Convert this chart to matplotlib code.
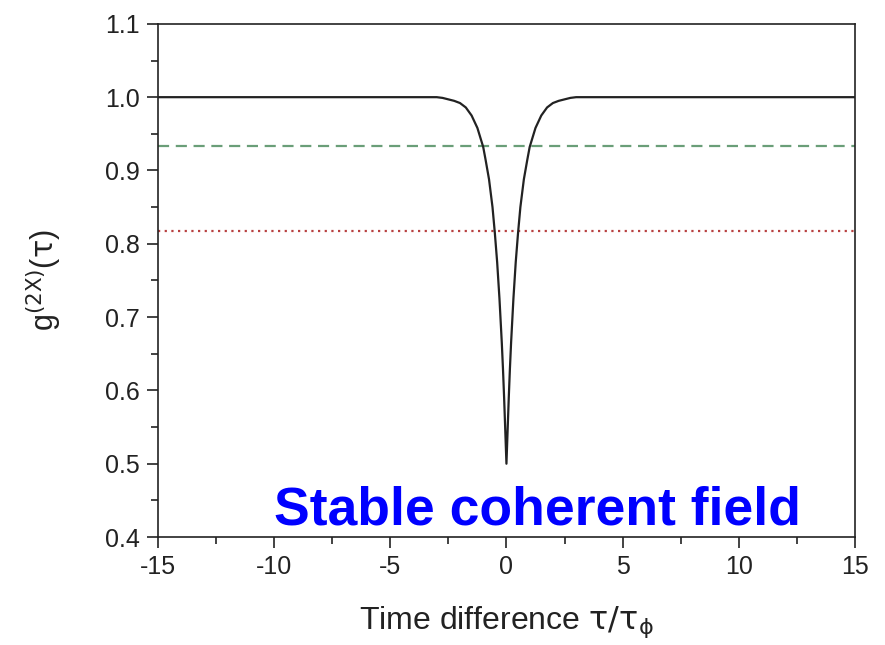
import numpy as np
import matplotlib
matplotlib.use("Agg")
import matplotlib.pyplot as plt
from matplotlib.ticker import MultipleLocator, FormatStrFormatter

# curve (right half, mirrored for the left)
tau_half = [0.0, 0.05, 0.1, 0.15, 0.2, 0.3, 0.4, 0.5, 0.6, 0.75, 0.9, 1.0,
            1.25, 1.5, 1.75, 2.0, 2.25, 2.5, 2.75, 3.0, 3.5, 15.0]
g2_half = [0.5, 0.545, 0.59, 0.63, 0.665, 0.725, 0.775, 0.815, 0.85, 0.888, 0.915, 0.932,
           0.958, 0.975, 0.986, 0.992, 0.995, 0.997, 0.999, 1.0, 1.0, 1.0]

green_level = 0.933
red_level = 0.817
x_range = [-15, 15]

tau = np.concatenate([-np.array(tau_half[:0:-1]), np.array(tau_half)])
g2 = np.concatenate([np.array(g2_half[:0:-1]), np.array(g2_half)])

plt.rcParams['font.family'] = ['Liberation Sans', 'DejaVu Sans']
plt.rcParams['mathtext.fontset'] = 'dejavusans'
plt.rcParams['axes.unicode_minus'] = False

fig = plt.figure(figsize=(8.85, 6.45), dpi=100)
ax = fig.add_axes([0.1785, 0.1674, 0.7875, 0.7956])

ax.plot(x_range, [green_level, green_level], color='#6a9e78', lw=1.6, ls=(0, (5, 3)))
ax.plot(x_range, [red_level, red_level], color='#b84040', lw=1.6, ls=(0, (1, 2)))
ax.plot(tau, g2, color='#222222', lw=1.6)

ax.set_xlim(-15, 15)
ax.set_ylim(0.4, 1.1)
ax.xaxis.set_major_locator(MultipleLocator(5))
ax.xaxis.set_minor_locator(MultipleLocator(2.5))
ax.yaxis.set_major_locator(MultipleLocator(0.1))
ax.yaxis.set_minor_locator(MultipleLocator(0.05))
ax.yaxis.set_major_formatter(FormatStrFormatter('%.1f'))
ax.tick_params(which='major', direction='out', length=8, width=1.2, labelsize=18,
               colors='#222222', pad=5)
ax.tick_params(which='minor', direction='out', length=5, width=1.2, colors='#222222')
for s in ax.spines.values():
    s.set_linewidth(1.2)
    s.set_color('#222222')

ax.set_xlabel(r'Time difference $\mathrm{\tau/\tau_{\phi}}$', fontsize=23, color='#222222',
              labelpad=18)
ax.set_ylabel(r'g$^{\mathrm{(2X)}}$($\mathrm{\tau}$)', fontsize=22, color='#222222',
              labelpad=30)

ax.text(1.35, 0.417, 'Stable coherent field', color='#0000ff', fontsize=38.5,
        fontweight='bold', ha='center', va='baseline')

fig.savefig('out.png', dpi=100)
